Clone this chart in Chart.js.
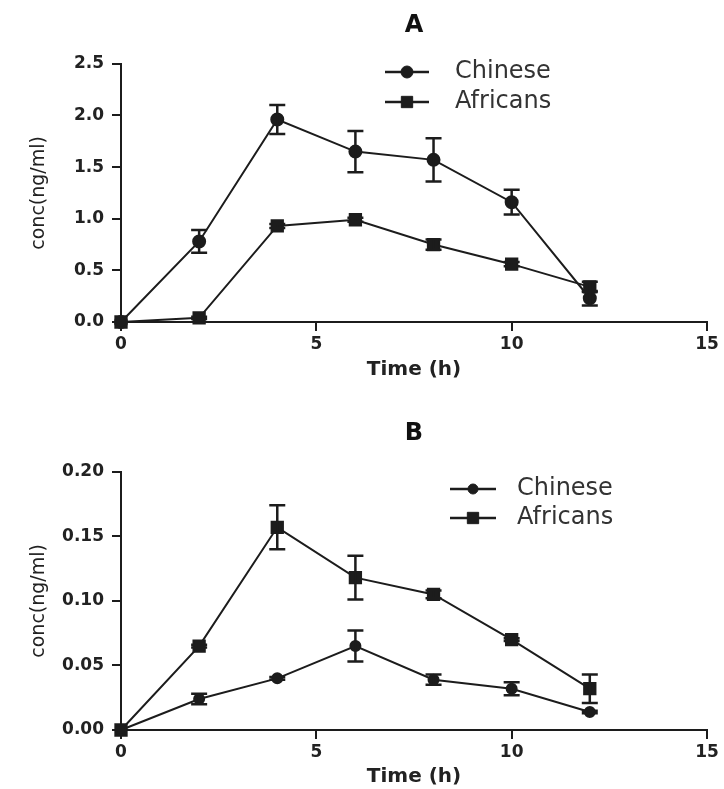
<!DOCTYPE html>
<html>
<head>
<meta charset="utf-8">
<script src="https://cdn.jsdelivr.net/npm/chart.js@4.4.0/dist/chart.umd.min.js"></script>
<style>
body{margin:0;background:#fff;}
canvas{display:block;}
</style>
</head>
<body>
<canvas id="chartA" width="724" height="395"></canvas>
<canvas id="chartB" width="724" height="394"></canvas>
<script>
// sampling times (h)
var times=[0,2,4,6,8,10,12];
var xTicks=[0,5,10,15];

// panel A
var chineseA=[0,0.78,1.96,1.65,1.57,1.16,0.23];
var chineseAErr=[0,0.11,0.14,0.20,0.21,0.12,0.07];
var africansA=[0,0.04,0.93,0.99,0.75,0.56,0.34];
var africansAErr=[0,0.01,0.02,0.02,0.05,0.02,0.05];
var yTicksA=[0,0.5,1.0,1.5,2.0,2.5];

// panel B
var chineseB=[0,0.024,0.040,0.065,0.039,0.032,0.014];
var chineseBErr=[0,0.004,0.001,0.012,0.004,0.005,0.001];
var africansB=[0,0.065,0.157,0.118,0.105,0.070,0.032];
var africansBErr=[0,0.001,0.017,0.017,0.003,0.001,0.011];
var yTicksB=[0,0.05,0.10,0.15,0.20];

var ink='#1c1c1c';

var errorBars={id:'errorBars',afterDatasetsDraw:function(chart){
    var ctx=chart.ctx,ys=chart.scales.y;
    chart.data.datasets.forEach(function(ds,i){
        if(!ds.errors)return;
        var meta=chart.getDatasetMeta(i);
        meta.data.forEach(function(pt,j){
            var e=ds.errors[j];if(!e)return;
            var v=ds.data[j].y;
            var top=ys.getPixelForValue(v+e),bot=ys.getPixelForValue(v-e);
            ctx.save();ctx.strokeStyle=ink;ctx.lineWidth=2.5;
            ctx.beginPath();
            ctx.moveTo(pt.x,top);ctx.lineTo(pt.x,bot);
            ctx.moveTo(pt.x-8,top);ctx.lineTo(pt.x+8,top);
            ctx.moveTo(pt.x-8,bot);ctx.lineTo(pt.x+8,bot);
            ctx.stroke();ctx.restore();
        });
    });
}};

var sideLegend={id:'sideLegend',afterDraw:function(chart,args,o){
    var ctx=chart.ctx;
    chart.data.datasets.forEach(function(ds,i){
        var y=o.y+i*o.gap;
        ctx.save();
        ctx.strokeStyle=ink;ctx.lineWidth=2.5;
        ctx.beginPath();ctx.moveTo(o.x,y);ctx.lineTo(o.x+o.len,y);ctx.stroke();
        ctx.fillStyle=ink;ctx.lineWidth=1;
        Chart.helpers.drawPoint(ctx,{pointStyle:ds.pointStyle,radius:ds.pointRadius,borderWidth:1,rotation:0},o.x+o.len/2,y);
        ctx.font='24px "DejaVu Sans"';ctx.fillStyle='#333';ctx.textBaseline='middle';ctx.textAlign='left';
        ctx.fillText(ds.label,o.x+o.len+o.textGap,y);
        ctx.restore();
    });
}};

function pts(vals){return times.map(function(t,i){return {x:t,y:vals[i]};});}

function makeChart(id,cfg){
    var ctx=document.getElementById(id).getContext('2d');
    return new Chart(ctx,{
        type:'line',
        data:{datasets:[
            {label:'Chinese',data:pts(cfg.chinese),errors:cfg.chineseErr,borderColor:ink,backgroundColor:ink,
             pointBackgroundColor:ink,pointBorderColor:ink,pointStyle:'circle',pointRadius:cfg.circleR,borderWidth:2,tension:0,clip:false},
            {label:'Africans',data:pts(cfg.africans),errors:cfg.africansErr,borderColor:ink,backgroundColor:ink,
             pointBackgroundColor:ink,pointBorderColor:ink,pointStyle:'rect',pointRadius:8,borderWidth:2,tension:0,clip:false}
        ]},
        options:{
            responsive:false,animation:false,
            layout:{padding:{left:0,right:17,top:0,bottom:0}},
            plugins:{
                legend:{display:false},tooltip:{enabled:false},
                title:{display:true,text:cfg.title,fullSize:false,color:'#111',
                       font:{family:'DejaVu Sans',size:24,weight:'bold',lineHeight:1.2},
                       padding:{top:cfg.titleTop,bottom:cfg.titleBottom}},
                sideLegend:cfg.legend
            },
            scales:{
                x:{type:'linear',min:0,max:15,
                   afterBuildTicks:function(s){s.ticks=xTicks.map(function(v){return {value:v};});},
                   afterFit:function(s){s.height=cfg.xHeight;},
                   grid:{drawOnChartArea:false,drawTicks:true,tickLength:9,color:ink,lineWidth:2},
                   border:{color:ink,width:2},
                   ticks:{color:'#222',padding:3,font:{family:'DejaVu Sans',size:17,weight:'bold'}},
                   title:{display:true,text:'Time (h)',color:'#222',font:{family:'DejaVu Sans',size:20,weight:'bold'},
                          padding:{top:0,bottom:cfg.xTitleBottom}}},
                y:{min:0,max:cfg.yTicks[cfg.yTicks.length-1],
                   afterBuildTicks:function(s){s.ticks=cfg.yTicks.map(function(v){return {value:v};});},
                   afterFit:function(s){s.width=121;},
                   grid:{drawOnChartArea:false,drawTicks:true,tickLength:9,color:ink,lineWidth:2},
                   border:{color:ink,width:2},
                   ticks:{color:'#222',padding:8,font:{family:'DejaVu Sans',size:17,weight:'bold'},
                          callback:function(v){return Number(v).toFixed(cfg.decimals);}},
                   title:{display:true,text:'conc(ng/ml)',color:'#222',font:{family:'DejaVu Sans',size:19},
                          padding:{top:28,bottom:0}}}
            }
        },
        plugins:[errorBars,sideLegend]
    });
}

makeChart('chartA',{title:'A',chinese:chineseA,chineseErr:chineseAErr,africans:africansA,africansErr:africansAErr,
    yTicks:yTicksA,decimals:1,circleR:6,titleTop:11,titleBottom:24,xHeight:73,xTitleBottom:13,
    legend:{x:385,y:72,gap:30,len:44,textGap:26}});
makeChart('chartB',{title:'B',chinese:chineseB,chineseErr:chineseBErr,africans:africansB,africansErr:africansBErr,
    yTicks:yTicksB,decimals:2,circleR:5,titleTop:24,titleBottom:24,xHeight:59,xTitleBottom:0,
    legend:{x:450,y:94,gap:29,len:46,textGap:21}});
</script>
</body>
</html>
